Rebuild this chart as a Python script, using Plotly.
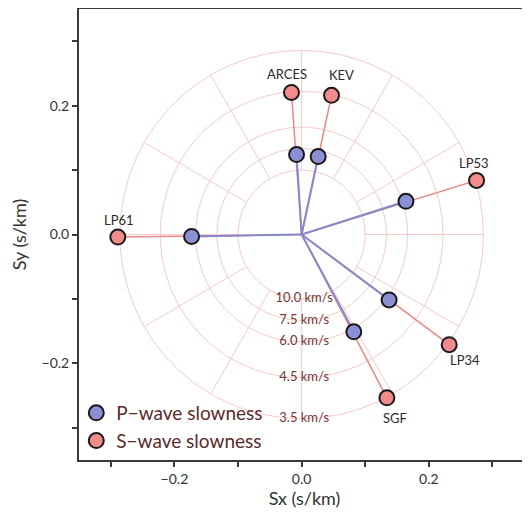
import plotly.graph_objects as go
import numpy as np

# ---- data ----
stations = ["ARCES", "KEV", "LP53", "LP61", "LP34", "SGF"]
p_sx = [-0.008, 0.026, 0.164, -0.173, 0.1375, 0.082]
p_sy = [0.124, 0.121, 0.0515, -0.003, -0.1015, -0.151]
s_sx = [-0.016, 0.047, 0.275, -0.289, 0.232, 0.134]
s_sy = [0.2205, 0.216, 0.084, -0.004, -0.171, -0.2535]
velocities = [10.0, 7.5, 6.0, 4.5, 3.5]
vel_labels = ["10.0 km/s", "7.5 km/s", "6.0 km/s", "4.5 km/s", "3.5 km/s"]
spoke_angles = [0, 30, 60, 90, 120, 150, 180, 210, 240, 270, 300, 330]
tick_vals = [-0.3, -0.2, -0.1, 0.0, 0.1, 0.2, 0.3]
tick_text = ["", "\u22120.2", "", "0.0", "", "0.2", ""]

# label offsets (px) for station names
label_shift = {
    "ARCES": (-4, 18), "KEV": (10, 20), "LP53": (-3, 17),
    "LP61": (1, 17), "LP34": (16, -15), "SGF": (8, -20),
}

GRID = "#f6caca"
FONT = "Lato"

fig = go.Figure()

# polar grid: circles
r_vals = [1.0 / v for v in velocities]
r_max = max(r_vals)
r_min = min(r_vals)
theta = np.linspace(0, 2 * np.pi, 361)
for r in r_vals:
    fig.add_trace(go.Scatter(x=r * np.cos(theta), y=r * np.sin(theta), mode="lines",
                             line=dict(color=GRID, width=1), hoverinfo="skip", showlegend=False))
# spokes
sx_, sy_ = [], []
for a in spoke_angles:
    t = np.deg2rad(a)
    sx_ += [r_min * np.cos(t), r_max * np.cos(t), None]
    sy_ += [r_min * np.sin(t), r_max * np.sin(t), None]
fig.add_trace(go.Scatter(x=sx_, y=sy_, mode="lines", line=dict(color=GRID, width=1),
                         hoverinfo="skip", showlegend=False))

# velocity labels
fig.add_trace(go.Scatter(x=[0.004] * len(r_vals), y=[-r for r in r_vals], mode="text",
                         text=vel_labels, textposition="middle center",
                         textfont=dict(family=FONT, size=13, color="#7a3434"),
                         hoverinfo="skip", showlegend=False))

# S lines (origin -> S)
lx, ly = [], []
for x, y in zip(s_sx, s_sy):
    lx += [0, x, None]
    ly += [0, y, None]
fig.add_trace(go.Scatter(x=lx, y=ly, mode="lines", line=dict(color="#ec8585", width=1.5),
                         hoverinfo="skip", showlegend=False))
# P lines (origin -> P)
lx, ly = [], []
for x, y in zip(p_sx, p_sy):
    lx += [0, x, None]
    ly += [0, y, None]
fig.add_trace(go.Scatter(x=lx, y=ly, mode="lines", line=dict(color="#8589cc", width=2),
                         hoverinfo="skip", showlegend=False))

fig.add_trace(go.Scatter(x=p_sx, y=p_sy, mode="markers", name="P\u2212wave slowness",
                         marker=dict(size=15, color="#8b8fd4", line=dict(color="#1a1a1a", width=2))))
fig.add_trace(go.Scatter(x=s_sx, y=s_sy, mode="markers", name="S\u2212wave slowness",
                         marker=dict(size=15, color="#f28c8c", line=dict(color="#1a1a1a", width=2))))

for name, x, y in zip(stations, s_sx, s_sy):
    dx, dy = label_shift[name]
    fig.add_annotation(x=x, y=y, text=name, showarrow=False, xshift=dx, yshift=dy,
                       font=dict(family=FONT, size=13, color="#2a2a2a"))

axis_common = dict(
    showgrid=False, zeroline=False, showline=True, linecolor="#3a3a3a", linewidth=2,
    ticks="outside", ticklen=5, tickwidth=1.5, tickcolor="#3a3a3a",
    tickvals=tick_vals, ticktext=tick_text, automargin=False,
    tickfont=dict(family=FONT, size=14, color="#333333"),
)

fig.update_layout(
    width=522, height=504,
    margin=dict(l=71, r=0, t=1, b=52),
    plot_bgcolor="white", paper_bgcolor="white",
    font=dict(family=FONT),
    xaxis=dict(range=[-0.35, 0.359], mirror="ticks",
               title=dict(text="Sx (s/km)", font=dict(family=FONT, size=18, color="#333333"), standoff=6),
               **axis_common),
    yaxis=dict(range=[-0.35, 0.35], mirror=False,
               title=dict(text="Sy (s/km)", font=dict(family=FONT, size=18, color="#333333"), standoff=12),
               **axis_common),
    legend=dict(x=-0.006, y=0.0, xanchor="left", yanchor="bottom", bgcolor="rgba(0,0,0,0)",
                font=dict(family=FONT, size=19, color="#5c2a2a"), itemwidth=30,
                tracegroupgap=0),
    showlegend=True,
)

fig.write_html("out.html")
